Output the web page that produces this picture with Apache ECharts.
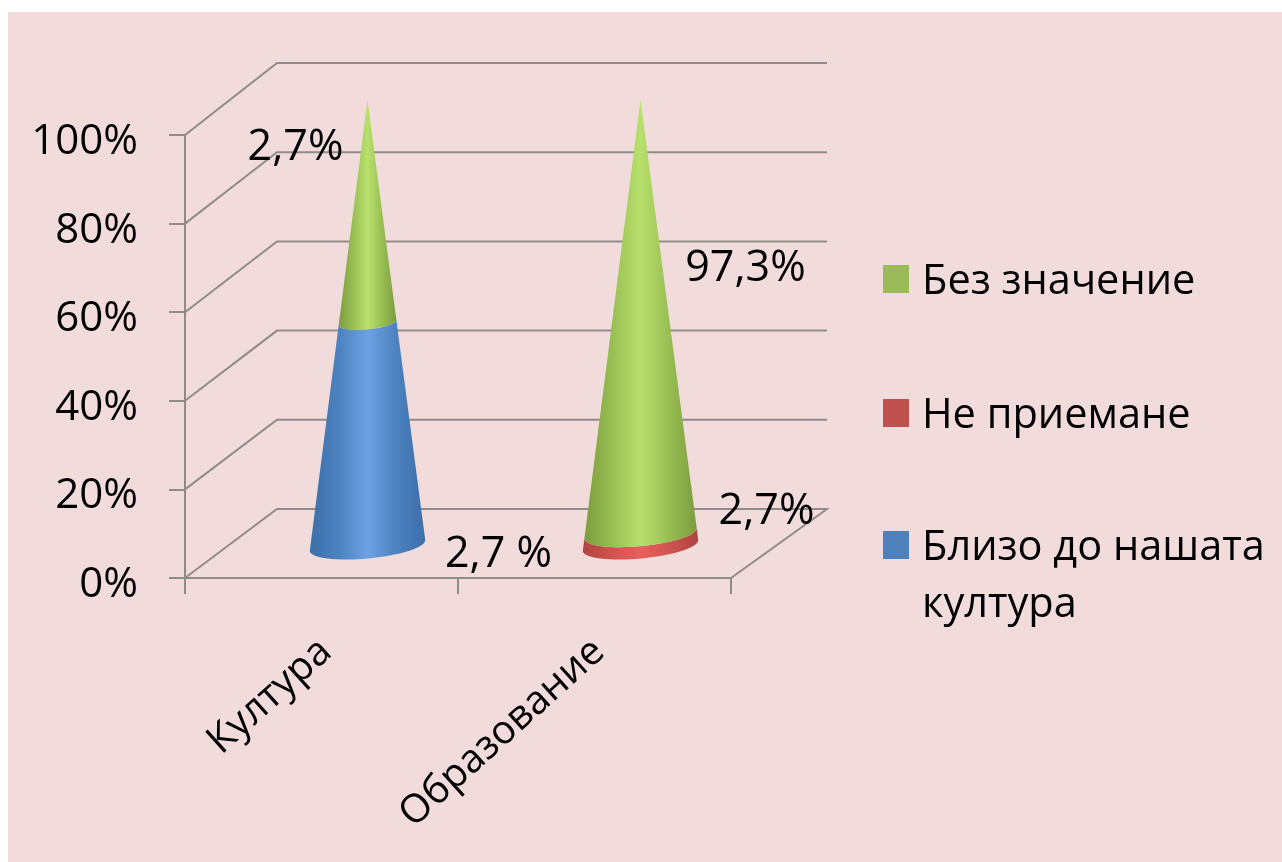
<!DOCTYPE html>
<html lang="bg">
<head>
    <meta charset="UTF-8">
    <title>Култура и образование</title>
    <script src="https://cdn.jsdelivr.net/npm/echarts@6/dist/echarts.min.js"></script>
    <style>
        html, body { margin: 0; padding: 0; background: #fff; overflow: hidden; }
        #frame { position: absolute; left: 8px; top: 12px; width: 1274px; height: 850px; background: #f2dcdb; }
        #container { position: absolute; left: 0; top: 0; width: 1282px; height: 862px; }
    </style>
</head>
<body>
<div id="frame"></div>
<div id="container"></div>
<script>
    var categories = ['Култура', 'Образование'];
    var seriesNames = ['Без значение', 'Не приемане', 'Близо до нашата култура'];
    var closeValues = [50, 0];
    var rejectValues = [0, 2.7];
    var neutralValues = [50, 97.3];
    var yTicks = [0, 20, 40, 60, 80, 100];
    var noteTexts = ['2,7%', '2,7 %', '97,3%', '2,7%'];
    var noteCategories = [0, 0, 1, 1];
    var noteValues = [100, 0, 60, 0];

    // hand placed labels in the original, so pixel offsets from the anchor
    var noteOffsets = [[-26, 13], [177, -23], [151, -43], [172, -66]];

    var fontName = '"Open Sans", sans-serif';
    var lineColor = '#8f8b8a';

    // the floor and walls are a skewed copy of the front plane
    function backDy(v) { return -69 - 3 * v / 100; }

    var stacks = [];
    var totals = categories.map(function () { return 0; });
    [closeValues, rejectValues, neutralValues].forEach(function (values) {
        stacks.push(values.map(function (v, i) {
            var item = [i, totals[i], totals[i] + v];
            totals[i] += v;
            return item;
        }));
    });

    function renderWall(params, api) {
        var v = api.value(0);
        var p = api.coord([0, v]);
        var cs = params.coordSys;
        var dy = backDy(v);
        var shape = v === 0 ? {
            points: [[cs.x, p[1]], [cs.x + 92, p[1] + dy], [cs.x + cs.width + 96, p[1] + dy], [cs.x + cs.width, p[1]]]
        } : {
            points: [[cs.x, p[1]], [cs.x + 92, p[1] + dy], [cs.x + cs.width + 96, p[1] + dy]]
        };
        return {
            type: 'polyline',
            shape: shape,
            style: { stroke: lineColor, lineWidth: 2, fill: null }
        };
    }

    function levelPoints(api, cat, v, reverse) {
        var p = api.coord([cat, v]);
        var cx = p[0] + 46;
        var cy = p[1] - 32.5 - 2.5 * v / 100;
        var k = 1 - v / 100;
        var rx = 58 * k, ry = 13 * k;
        var tilt = 5.5 * Math.PI / 180;
        var pts = [];
        for (var i = 0; i <= 32; i++) {
            var a = Math.PI - Math.PI * i / 32;
            var X = rx * Math.cos(a), Y = ry * Math.sin(a);
            pts.push([cx + X * Math.cos(tilt) + Y * Math.sin(tilt), cy - X * Math.sin(tilt) + Y * Math.cos(tilt)]);
        }
        return reverse ? pts.reverse() : pts;
    }

    function coneRenderer(edge, mid, light) {
        return function (params, api) {
            var start = api.value(1), end = api.value(2);
            if (end <= start) return null;
            var cat = api.value(0);
            return {
                type: 'polygon',
                shape: { points: levelPoints(api, cat, start, false).concat(levelPoints(api, cat, end, true)) },
                style: {
                    fill: new echarts.graphic.LinearGradient(0, 0, 1, 0, [
                        { offset: 0, color: edge },
                        { offset: 0.25, color: mid },
                        { offset: 0.5, color: light },
                        { offset: 0.75, color: mid },
                        { offset: 1, color: edge }
                    ])
                }
            };
        };
    }

    function renderNote(params, api) {
        var i = params.dataIndex;
        var p = api.coord([api.value(0), api.value(1)]);
        return {
            type: 'text',
            z2: 100,
            style: {
                x: p[0] + noteOffsets[i][0],
                y: p[1] + noteOffsets[i][1],
                text: noteTexts[i],
                fill: '#000',
                font: '43px ' + fontName,
                align: 'center',
                verticalAlign: 'middle'
            }
        };
    }

    var myChart = echarts.init(document.getElementById('container'));
    var option = {
        animation: false,
        backgroundColor: 'transparent',
        textStyle: { fontFamily: fontName },
        grid: { left: 185, top: 135, width: 546, height: 443 },
        xAxis: {
            type: 'category',
            data: categories,
            axisLine: { lineStyle: { color: lineColor, width: 2 } },
            axisTick: { show: true, length: 16, lineStyle: { color: lineColor, width: 2 } },
            axisLabel: { rotate: 42, margin: 72, padding: [0, -6, 0, 0], color: '#000', fontSize: 39.5, fontFamily: fontName, interval: 0 }
        },
        yAxis: {
            type: 'value',
            min: 0,
            max: 100,
            interval: 20,
            splitLine: { show: false },
            axisLine: { show: true, lineStyle: { color: lineColor, width: 2 } },
            axisTick: { show: true, length: 16, lineStyle: { color: lineColor, width: 2 } },
            axisLabel: { margin: 47, color: '#000', fontSize: 42, fontFamily: fontName, verticalAlign: 'top', lineHeight: 14, formatter: '{value}%' }
        },
        legend: [{
            data: [
                { name: seriesNames[0], icon: 'path://M0 0L0 0 M0 11H26V39H0Z M0 57L0 57' },
                { name: seriesNames[1], icon: 'path://M0 0L0 0 M0 11H26V39H0Z M0 57L0 57' }
            ],
            orient: 'vertical',
            left: 883,
            top: 254,
            padding: 0,
            itemWidth: 26,
            itemHeight: 57,
            itemGap: 77,
            selectedMode: false,
            textStyle: { fontSize: 41.5, lineHeight: 57, color: '#000', fontFamily: fontName, padding: [0, 0, 0, 8] }
        }, {
            data: [{
                name: seriesNames[2],
                // empty subpaths keep the square level with the first text line
                icon: 'path://M0 0L0 0 M0 11H26V39H0Z M0 114L0 114'
            }],
            orient: 'vertical',
            left: 883,
            top: 520,
            padding: 0,
            itemWidth: 26,
            itemHeight: 114,
            selectedMode: false,
            formatter: function () { return 'Близо до нашата\nкултура'; },
            textStyle: { fontSize: 41.5, lineHeight: 57, color: '#000', fontFamily: fontName, padding: [0, 0, 0, 8] }
        }],
        series: [
            { type: 'custom', name: 'walls', silent: true, renderItem: renderWall, data: yTicks.map(function (v) { return [v]; }), encode: { y: 0 }, z: 1 },
            { type: 'custom', name: seriesNames[2], renderItem: coneRenderer('#3d6fa8', '#4d82c0', '#6ca2e2'), data: stacks[0], itemStyle: { color: '#4f81bd' }, z: 3 },
            { type: 'custom', name: seriesNames[1], renderItem: coneRenderer('#b04340', '#cf5450', '#e8605c'), data: stacks[1], itemStyle: { color: '#c0504d' }, z: 3 },
            { type: 'custom', name: seriesNames[0], renderItem: coneRenderer('#7c9c3e', '#99bf54', '#b8e06c'), data: stacks[2], itemStyle: { color: '#9bbb59' }, z: 3 },
            {
                type: 'custom',
                name: 'notes',
                silent: true,
                renderItem: renderNote,
                data: noteValues.map(function (v, i) { return [noteCategories[i], v]; }),
                z: 5
            }
        ]
    };
    myChart.setOption(option);
</script>
</body>
</html>
